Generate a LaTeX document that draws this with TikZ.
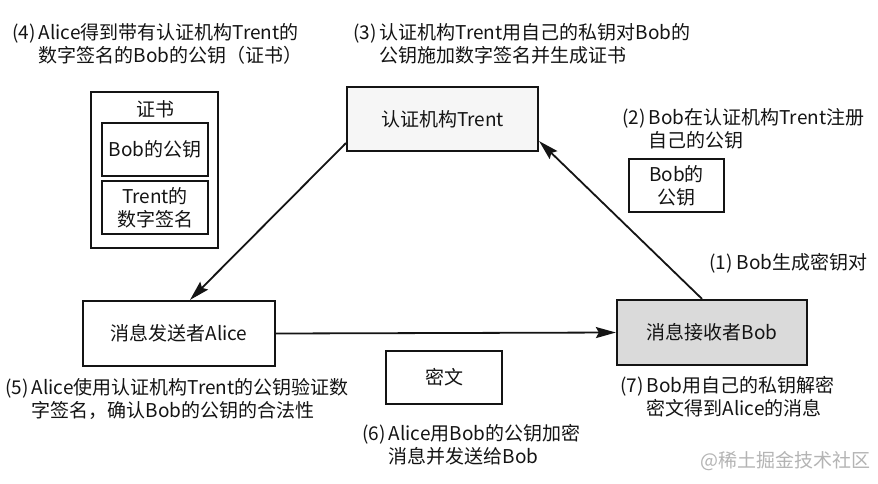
\documentclass[tikz,border=0pt]{standalone}
\usepackage{fontspec}
\setmainfont{Noto Sans CJK SC}
\usetikzlibrary{arrows.meta}
\definecolor{ink}{HTML}{141414}
\definecolor{bobfill}{HTML}{DADADA}
\definecolor{trentfill}{HTML}{F6F6F6}
\definecolor{wm}{HTML}{B4B4B4}
\tikzset{
  box/.style={draw=ink, line width=2.2pt, rectangle, inner sep=0pt, align=center,
    text=ink, font=\fontsize{19}{23}\selectfont},
  lbl/.style={anchor=base west, inner sep=0pt, text=ink, font=\fontsize{19}{23}\selectfont},
  conn/.style={draw=ink, line width=1.8pt, -{Stealth[length=20pt,width=11pt,inset=3pt]}}
}
\newcommand{\hang}[3]{\begin{tabular}[t]{@{}l@{\,}l@{}}#1 & #2\\ & #3\end{tabular}}
\begin{document}
\begin{tikzpicture}[x=1pt,y=-1pt]
\useasboundingbox[fill=white] (0,0) rectangle (878,483);
% boxes
\node[box, fill=trentfill, minimum width=191pt, minimum height=64pt] (trent) at (442.5,119) {认证机构Trent};
\node[box, minimum width=127pt, minimum height=156pt] (cert) at (154.5,170) {};
\node[box, anchor=center, draw=none] (certt) at (155,109) {证书};
\node[box, minimum width=106pt, minimum height=53pt] (pk) at (155,149.5) {Bob的公钥};
\node[box, minimum width=106pt, minimum height=53pt] (sig) at (155,207.5) {Trent的\\数字签名};
\node[box, minimum width=95pt, minimum height=53pt] (bobpk) at (676.5,185.5) {Bob的\\公钥};
\node[box, minimum width=192pt, minimum height=65pt] (alice) at (179,333.5) {消息发送者Alice};
\node[box, fill=bobfill, minimum width=190pt, minimum height=65pt] (bob) at (712,332.5) {消息接收者Bob};
\node[box, minimum width=116pt, minimum height=53pt] (cipher) at (444,377.5) {密文};
% connectors
\draw[conn] ([yshift=9pt]trent.south west) -- ([xshift=11pt]alice.north);
\draw[conn] ([xshift=-10pt]bob.north) -- ([yshift=11pt]trent.south east);
\draw[conn] (alice.east) -- (bob.west);
% labels
\node[lbl] (l4) at (12,39) {\hang{(4)}{Alice得到带有认证机构Trent的}{数字签名的Bob的公钥（证书）}};
\node[lbl] (l3) at (353,39) {\hang{(3)}{认证机构Trent用自己的私钥对Bob的}{公钥施加数字签名并生成证书}};
\node[lbl] (l2) at (622,124) {\hang{(2)}{Bob在认证机构Trent注册}{自己的公钥}};
\node[lbl] (l1) at (709,269) {(1) Bob生成密钥对};
\node[lbl] (l5) at (5,394) {\hang{(5)}{Alice使用认证机构Trent的公钥验证数}{字签名，确认Bob的公钥的合法性}};
\node[lbl] (l6) at (362,440) {\hang{(6)}{Alice用Bob的公钥加密}{消息并发送给Bob}};
\node[lbl] (l7) at (620,392) {\hang{(7)}{Bob用自己的私钥解密}{密文得到Alice的消息}};
\node[lbl, text=wm] (wmk) at (700,467) {@稀土掘金技术社区};
\end{tikzpicture}
\end{document}
